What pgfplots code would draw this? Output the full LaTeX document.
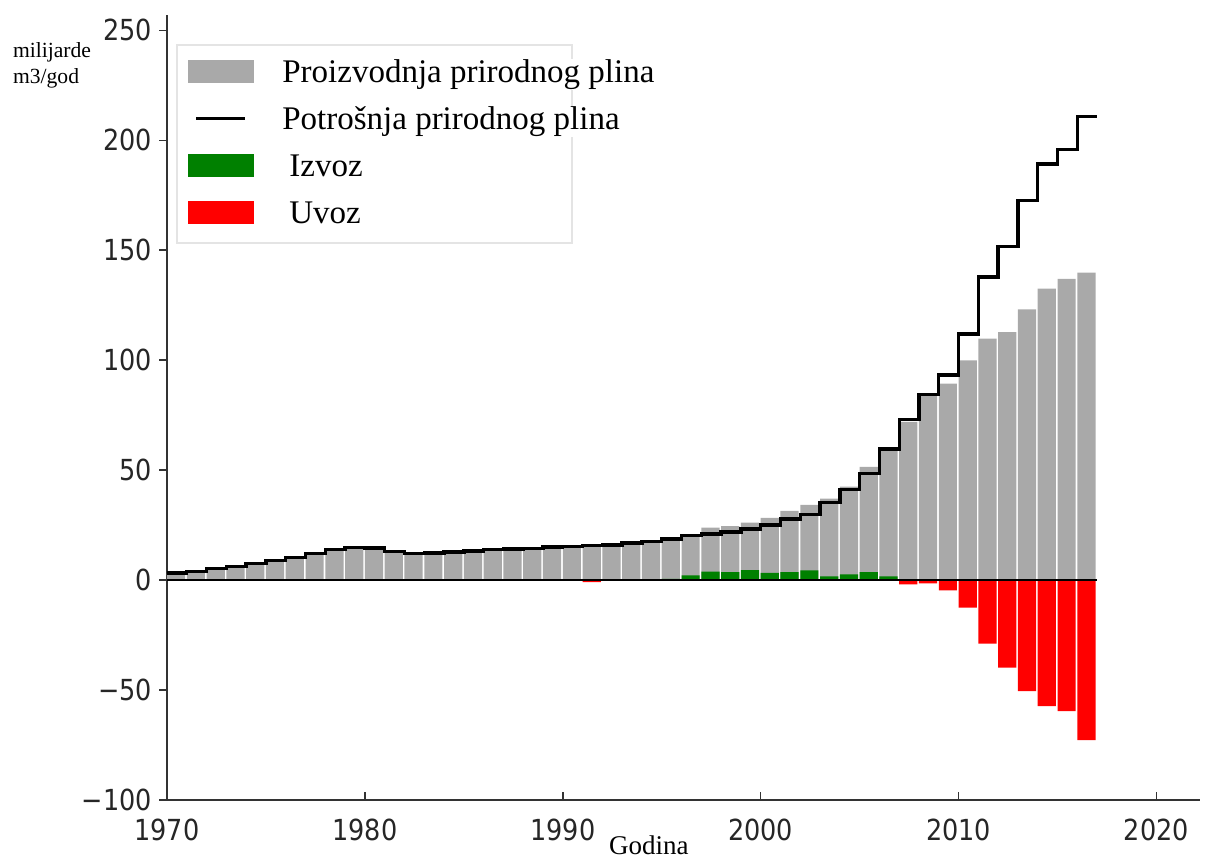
\documentclass[border=0pt]{standalone}
\usepackage{fontspec}
\setmainfont{Liberation Serif}
\newfontfamily\dejavu[FakeStretch=0.88]{DejaVu Sans}
\usepackage{pgfplots}
\usepackage{pgfplotstable}
\pgfplotsset{compat=1.18}
\definecolor{prodgray}{HTML}{A9A9A9}
\definecolor{expgreen}{HTML}{008000}
\definecolor{impred}{HTML}{FF0000}
\definecolor{legframe}{HTML}{E4E4E4}

\pgfplotstableread{
year prod exp imp
1970 3.0 0 0
1971 3.8 0 0
1972 4.9 0 0
1973 6.0 0 0
1974 7.3 0 0
1975 8.7 0 0
1976 10.0 0 0
1977 12.0 0 0
1978 13.5 0 0
1979 14.6 0 0
1980 14.4 0 0
1981 12.6 0 0
1982 11.9 0 0
1983 12.1 0 0
1984 12.6 0 0
1985 13.0 0 0
1986 13.6 0 0
1987 13.9 0 0
1988 14.1 0 -0.4
1989 14.8 0 0
1990 15.2 0 0
1991 15.5 0 -0.9
1992 15.8 0 -0.3
1993 16.5 0 0
1994 17.4 0.3 0
1995 18.7 0.6 0
1996 20.9 2.2 0
1997 23.9 3.8 0
1998 24.6 3.6 0
1999 26.1 4.5 0
2000 28.3 3.3 0
2001 31.5 3.6 0
2002 34.2 4.4 0
2003 37.0 1.7 0
2004 42.5 2.6 0
2005 51.5 3.6 0
2006 60.5 1.7 0
2007 72.0 0 -1.9
2008 84.0 0 -1.5
2009 89.3 0 -4.7
2010 99.9 0 -12.5
2011 109.8 0 -28.9
2012 112.8 0 -39.8
2013 123.1 0 -50.5
2014 132.5 0 -57.3
2015 137.0 0 -59.6
2016 139.8 0 -72.8
}\prodtable

\pgfplotstableread{
year cons
1970 3.3
1971 4.0
1972 5.2
1973 6.3
1974 7.6
1975 8.9
1976 10.3
1977 12.2
1978 13.8
1979 14.8
1980 14.6
1981 12.9
1982 12.2
1983 12.4
1984 12.8
1985 13.2
1986 13.8
1987 14.1
1988 14.4
1989 15.0
1990 15.4
1991 15.8
1992 16.0
1993 16.8
1994 17.6
1995 18.6
1996 20.2
1997 21.0
1998 21.9
1999 23.3
2000 25.0
2001 27.8
2002 29.8
2003 35.2
2004 41.3
2005 48.6
2006 59.6
2007 73.0
2008 84.4
2009 93.2
2010 111.9
2011 137.8
2012 151.7
2013 172.6
2014 189.3
2015 195.8
2016 210.8
2017 210.8
}\constable

\begin{document}
\begin{tikzpicture}
\path[use as bounding box] (0,0) rectangle (606pt,430pt);
\begin{axis}[
  at={(83.5pt,30pt)}, anchor=south west,
  scale only axis, width=516.5pt, height=392.5pt,
  xmin=1970, xmax=2022.2, ymin=-100, ymax=257,
  axis lines*=left,
  axis line style={line width=0.8pt, color=black!80},
  xtick={1970,1980,1990,2000,2010,2020},
  xticklabels={1970,1980,1990,2000,2010,2020},
  ytick={-100,-50,0,50,100,150,200,250},
  yticklabels={−100,−50,0,50,100,150,200,250},
  tick align=outside, xtick align=inside, major tick length=4pt,
  tick style={line width=0.8pt, color=black!80},
  ticklabel style={font=\dejavu\fontsize{14.5}{14.5}\selectfont, color=black!85},
  xticklabel style={yshift=-6pt},
  clip=false,
  legend style={at={(rel axis cs:0.0203,0.944)}, anchor=north west,
    draw=none, fill=none, inner sep=0pt, row sep=8.2pt, column sep=14pt,
    font=\fontsize{16.5}{19}\selectfont,
    nodes={inner sep=0pt, text height=11.5pt, text depth=3.8pt, fill=white}},
  legend cell align=left,
]
\draw[legframe, line width=1pt] (rel axis cs:0.0097,0.962) rectangle (rel axis cs:0.392,0.7096);

\addplot[ybar, bar width=0.92, bar shift=0pt, fill=prodgray, draw=none,
  legend image code/.code={\fill[prodgray] (0pt,-4.25pt) rectangle (33pt,7.25pt);}]
  table[x expr=\thisrow{year}+0.46, y=prod] {\prodtable};
\addlegendentry{Proizvodnja prirodnog plina}

\addplot[const plot, black, line width=1.7pt, line join=miter,
  legend image code/.code={\path[draw=none, fill=none] (0pt,-4.25pt) rectangle (33pt,7.25pt); \draw[black, line width=1.6pt] (4pt,1.5pt) -- (28.5pt,1.5pt);}]
  table[x=year, y=cons] {\constable};
\addlegendentry{Potrošnja prirodnog plina}

\addplot[ybar, bar width=0.92, bar shift=0pt, fill=expgreen, draw=none,
  legend image code/.code={\fill[expgreen] (0pt,-4.25pt) rectangle (33pt,7.25pt);}]
  table[x expr=\thisrow{year}+0.46, y=exp] {\prodtable};
\addlegendentry{\hspace*{3.5pt}Izvoz}

\addplot[ybar, bar width=0.92, bar shift=0pt, fill=impred, draw=none,
  legend image code/.code={\fill[impred] (0pt,-4.25pt) rectangle (33pt,7.25pt);}]
  table[x expr=\thisrow{year}+0.46, y=imp] {\prodtable};
\addlegendentry{\hspace*{3.5pt}Uvoz}

\addplot[black, line width=0.7pt, forget plot] coordinates {(1970,0) (2017,0)};
\end{axis}
\node[anchor=base west, font=\fontsize{10.8}{13}\selectfont] at (3pt,401pt) {milijarde};
\node[anchor=base west, font=\fontsize{10.8}{13}\selectfont] at (3pt,388pt) {m3/god};
\node[anchor=base west, font=\fontsize{13.5}{16}\selectfont] at (301pt,2.5pt) {Godina};
\end{tikzpicture}
\end{document}
